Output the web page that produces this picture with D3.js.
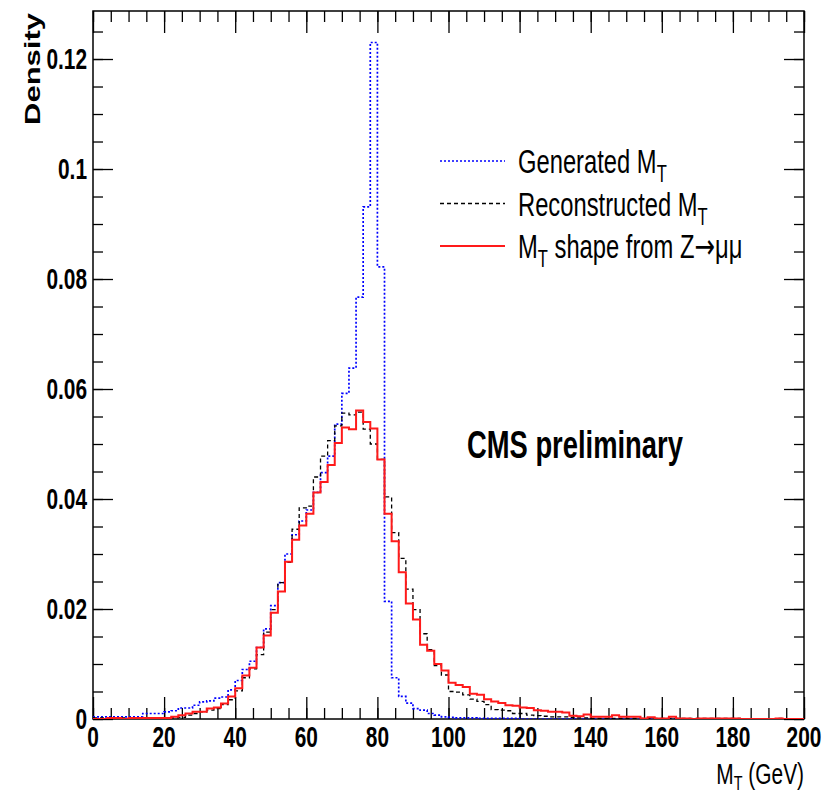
<!DOCTYPE html>
<html>
<head>
<meta charset="utf-8">
<script src="https://cdn.jsdelivr.net/npm/d3@7"></script>
<style>
  body { margin: 0; background: #fff; }
  svg { display: block; }
  text { font-family: "Liberation Sans", Arial, sans-serif; }
</style>
</head>
<body>
<svg id="chart" width="832" height="796"></svg>
<script>
// 2 GeV bins from 0 to 200 GeV
var binWidth = 2;
var binLow = d3.range(0, 200, binWidth);

var generated = [
  0.0004, 0.0004, 0.0004, 0.0004, 0.0004, 0.0004, 0.0004, 0.0010, 0.0010, 0.0010,
  0.0013, 0.0015, 0.0020, 0.0020, 0.0025, 0.0031, 0.0033, 0.0038, 0.0040, 0.0053,
  0.0070, 0.0090, 0.0105, 0.0130, 0.0164, 0.0206, 0.0248, 0.0300, 0.0335, 0.0360,
  0.0380, 0.0412, 0.0448, 0.0478, 0.0536, 0.0592, 0.0638, 0.0767, 0.0931, 0.1230,
  0.0822, 0.0214, 0.0075, 0.0041, 0.0029, 0.0019, 0.0016, 0.0010, 0.0007, 0.0004,
  0.0003, 0.0002, 0.0002, 0.0002, 0.0001, 0.0001, 0.0001, 0.0001, 0.0001, 0.0001,
  0, 0, 0, 0, 0, 0, 0, 0, 0, 0,
  0, 0, 0, 0, 0, 0, 0, 0, 0, 0,
  0, 0, 0, 0, 0, 0, 0, 0, 0, 0,
  0, 0, 0, 0, 0, 0, 0, 0, 0, 0
];

var reconstructed = [
  0.0002, 0.0002, 0.0002, 0.0002, 0.0002, 0.0002, 0.0002, 0.0002, 0.0002, 0.0002,
  0.0002, 0.0002, 0.0003, 0.0007, 0.0010, 0.0013, 0.0016, 0.0019, 0.0026, 0.0035,
  0.0051, 0.0075, 0.0091, 0.0117, 0.0158, 0.0199, 0.0248, 0.0285, 0.0345, 0.0384,
  0.0387, 0.0440, 0.0478, 0.0506, 0.0533, 0.0556, 0.0553, 0.0558, 0.0527, 0.0500,
  0.0472, 0.0404, 0.0339, 0.0292, 0.0236, 0.0199, 0.0155, 0.0126, 0.0097, 0.0080,
  0.0050, 0.0049, 0.0044, 0.0036, 0.0032, 0.0026, 0.0017, 0.0016, 0.0015, 0.0010,
  0.0010, 0.0007, 0.0006, 0.0005, 0.0004, 0.0004, 0.0004, 0.0003, 0.0002, 0.0002,
  0.0001, 0.0001, 0.0001, 0.0001, 0.0001, 0.0001, 0.0001, 0.0001, 0.0001, 0.0001,
  0.0001, 0.0001, 0.0001, 0.0001, 0.0001, 0.0001, 0.0001, 0.0001, 0.0001, 0.0001,
  0.0001, 0, 0, 0, 0, 0, 0.0001, 0, 0, 0
];

var zShape = [
  0, 0, 0.0002, 0.0002, 0, 0.0002, 0.0002, 0.0002, 0.0002, 0.0002,
  0.0002, 0.0004, 0.0007, 0.0010, 0.0013, 0.0013, 0.0019, 0.0021, 0.0028, 0.0041,
  0.0056, 0.0079, 0.0093, 0.0130, 0.0152, 0.0193, 0.0232, 0.0286, 0.0326, 0.0352,
  0.0373, 0.0412, 0.0431, 0.0462, 0.0502, 0.0530, 0.0527, 0.0561, 0.0540, 0.0528,
  0.0472, 0.0373, 0.0323, 0.0267, 0.0210, 0.0181, 0.0135, 0.0124, 0.0100, 0.0088,
  0.0066, 0.0062, 0.0058, 0.0046, 0.0044, 0.0036, 0.0032, 0.0029, 0.0025, 0.0024,
  0.0021, 0.0020, 0.0016, 0.0015, 0.0013, 0.0013, 0.0012, 0.0006, 0.0005, 0.0008,
  0.0004, 0.0004, 0.0004, 0.0007, 0.0004, 0.0004, 0.0004, 0.0001, 0.0003, 0.0001,
  0.0001, 0.0004, 0.0001, 0.0001, 0, 0.0001, 0.0001, 0.0001, 0.0001, 0.0001,
  0.0001, 0, 0, 0, 0, 0, 0.0001, 0, 0, 0
];

var xTicks = [0, 20, 40, 60, 80, 100, 120, 140, 160, 180, 200];
var xMinorTicks = d3.range(0, 201, 5);
var yTicks = [0, 0.02, 0.04, 0.06, 0.08, 0.1, 0.12];
var yTickLabels = ["0", "0.02", "0.04", "0.06", "0.08", "0.1", "0.12"];
var yMinorTicks = d3.range(0, 0.1287, 0.005);

// the original picture is squeezed horizontally, so text is too
var squeeze = 0.72;

var margin = { top: 11, left: 93 },
  width = 711,
  height = 708;

var x = d3.scaleLinear().domain([0, 200]).range([0, width]);
var y = d3.scaleLinear().domain([0, 0.12873]).range([height, 0]);

var svg = d3.select("#chart");
var g = svg.append("g")
  .attr("transform", "translate(" + margin.left + "," + margin.top + ")");

g.append("clipPath").attr("id", "clip")
  .append("rect").attr("width", width).attr("height", height);

// frame ticks on all four sides, pointing inward
function tickAxis(axis, tx, ty) {
  var a = g.append("g").attr("transform", "translate(" + tx + "," + ty + ")").call(axis);
  a.select(".domain").remove();
  a.selectAll("line").attr("stroke", "#000").attr("stroke-width", 1.3);
}
tickAxis(d3.axisBottom(x).tickValues(xTicks).tickSize(-22).tickFormat(""), 0, height);
tickAxis(d3.axisBottom(x).tickValues(xMinorTicks).tickSize(-11).tickFormat(""), 0, height);
tickAxis(d3.axisTop(x).tickValues(xTicks).tickSize(-22).tickFormat(""), 0, 0);
tickAxis(d3.axisTop(x).tickValues(xMinorTicks).tickSize(-11).tickFormat(""), 0, 0);
tickAxis(d3.axisLeft(y).tickValues(yTicks).tickSize(-20).tickFormat(""), 0, 0);
tickAxis(d3.axisLeft(y).tickValues(yMinorTicks).tickSize(-10).tickFormat(""), 0, 0);
tickAxis(d3.axisRight(y).tickValues(yTicks).tickSize(-20).tickFormat(""), width, 0);
tickAxis(d3.axisRight(y).tickValues(yMinorTicks).tickSize(-10).tickFormat(""), width, 0);

g.append("rect")
  .attr("width", width).attr("height", height)
  .attr("fill", "none").attr("stroke", "#000").attr("stroke-width", 1.5);

// squeezed text helper
function label(px, py, size, weight, anchor, extra) {
  return g.append("text")
    .attr("transform", "translate(" + px + "," + py + ") scale(" + squeeze + ",1)" + (extra || ""))
    .attr("font-size", size)
    .attr("font-weight", weight)
    .attr("text-anchor", anchor)
    .attr("fill", "#000");
}

xTicks.forEach(function (v) {
  label(x(v), height + 28, 29, "bold", "middle").text(v);
});
yTicks.forEach(function (v, i) {
  label(-6, y(v) + 10, 29, "bold", "end").text(yTickLabels[i]);
});

label(-53, 2, 31, "bold", "end", " rotate(-90)").text("Density");

var xt = label(width, 773, 29, "normal", "end");
xt.append("tspan").text("M");
xt.append("tspan").attr("font-size", 20).attr("dy", 6).text("T");
xt.append("tspan").attr("dy", -6).text(" (GeV)");

label(374, 447, 38, "bold", "start").text("CMS preliminary");

// histograms
function histData(vals) {
  var pts = binLow.map(function (b, i) { return [b, vals[i]]; });
  pts.push([200, vals[vals.length - 1]]);
  return pts;
}
var line = d3.line()
  .x(function (d) { return x(d[0]); })
  .y(function (d) { return y(d[1]); })
  .curve(d3.curveStepAfter);

var series = [
  { name: "gen", values: generated, color: "#0000ff", w: 1.7, dash: "2,2" },
  { name: "reco", values: reconstructed, color: "#000000", w: 1.3, dash: "4,3" },
  { name: "z", values: zShape, color: "#ff1a1a", w: 2, dash: null }
];

var plot = g.append("g").attr("clip-path", "url(#clip)");
series.forEach(function (s) {
  plot.append("path")
    .datum(histData(s.values))
    .attr("d", line)
    .attr("fill", "none")
    .attr("stroke", s.color)
    .attr("stroke-width", s.w)
    .attr("stroke-dasharray", s.dash);
});

// legend
var legendRows = [
  { s: series[0], pre: "Generated M", post: "" },
  { s: series[1], pre: "Reconstructed M", post: "" },
  { s: series[2], pre: "M", post: " shape from Z" }
];
legendRows.forEach(function (r, i) {
  var ly = 150 + i * 42.5;
  g.append("line")
    .attr("x1", 347).attr("x2", 412)
    .attr("y1", ly).attr("y2", ly)
    .attr("stroke", r.s.color)
    .attr("stroke-width", r.s.w)
    .attr("stroke-dasharray", r.s.dash);
  var t = label(425, ly + 12, 33, "normal", "start");
  t.append("tspan").text(r.pre);
  t.append("tspan").attr("font-size", 23).attr("dy", 9).text("T");
  if (r.post) {
    t.append("tspan").attr("dy", -9).text(r.post);
    t.append("tspan").attr("font-family", "DejaVu Sans").attr("font-size", 34).text("\u2192");
    t.append("tspan").text("\u03bc\u03bc");
  }
});
</script>
</body>
</html>
